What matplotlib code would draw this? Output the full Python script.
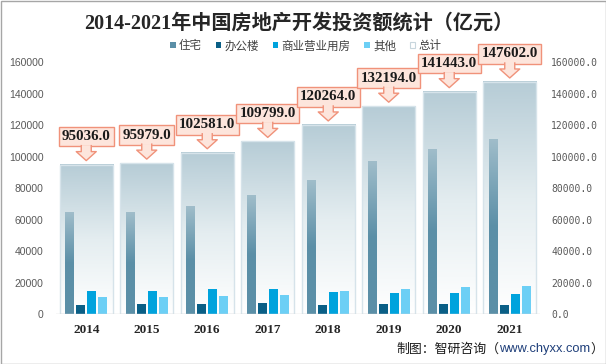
import numpy as np
import matplotlib
matplotlib.use("Agg")
import matplotlib.pyplot as plt
from matplotlib.colors import LinearSegmentedColormap
from matplotlib.patches import Polygon, Rectangle, Patch
from matplotlib.transforms import ScaledTranslation

plt.rcParams['font.family'] = ['Liberation Sans', 'Noto Sans CJK SC']

# Data (亿元)
years = ['2014', '2015', '2016', '2017', '2018', '2019', '2020', '2021']
housing = [64352, 64595, 68704, 75148, 85192, 97071, 104446, 111173]
office = [5641, 6210, 6533, 6761, 5996, 6163, 6494, 5974]
commercial = [14346, 14607, 15838, 15640, 14177, 13226, 13076, 12445]
other = [10697, 10567, 11506, 12250, 14899, 15734, 17427, 18010]
total = [95036, 95979, 102581, 109799, 120264, 132194, 141443, 147602]
series_names = ['住宅', '办公楼', '商业营业用房', '其他', '总计']

c_house = '#5b8fa7'
c_office = '#0a5f86'
c_comm = '#00a3dd'
c_other = '#6ccff5'
box_fc = '#fde5dc'
box_ec = '#f0927a'

fig = plt.figure(figsize=(6.06, 3.64), dpi=100)
ax = fig.add_axes([56 / 606, 1 - 314 / 364, 484 / 606, 251.5 / 364])
x = np.arange(len(years))

# total bars with vertical gradient
tot_cmap = LinearSegmentedColormap.from_list('tot', ['#ffffff', '#e4edf0', '#b6ccd6'])
grad = np.linspace(0, 1, 256).reshape(-1, 1)
tw = 0.88
for i, v in enumerate(total):
    ax.imshow(grad, extent=[i - tw / 2, i + tw / 2, 0, v], origin='lower',
              cmap=tot_cmap, aspect='auto', zorder=1)
ax.bar(x, total, width=tw, facecolor='none', edgecolor='#d6e3ea', lw=1, zorder=2)

# component bars
bw = 9 / 60.5
step = 11 / 60.5
house_cmap = LinearSegmentedColormap.from_list(
    'house', [(0, c_house), (0.5, c_house), (1, '#a0bdca')])
for i, v in enumerate(housing):
    x0 = i - 1.5 * step - bw / 2
    ax.imshow(grad, extent=[x0, x0 + bw, 0, v], origin='lower',
              cmap=house_cmap, aspect='auto', zorder=3)
ax.bar(x - 0.5 * step, office, width=bw, color=c_office, zorder=3)
ax.bar(x + 0.5 * step, commercial, width=bw, color=c_comm, zorder=3)
ax.bar(x + 1.5 * step, other, width=bw, color=c_other, zorder=3)

ax.set_xlim(-0.5, len(years) - 0.5)
ax.set_ylim(0, 160000)
ax.set_yticks(np.arange(0, 160001, 20000))
ax.set_xticks(x)
ax.set_xticklabels(years, fontfamily='Liberation Serif', fontweight='bold',
                   fontsize=9.5, color='#262626')
ax.tick_params(axis='x', length=0, pad=7)
ax.tick_params(axis='y', length=0, pad=9, labelsize=7.5, labelcolor='#595959')
for s in ax.spines.values():
    s.set_visible(False)
ax.axhline(0, color='#d9d9d9', lw=1, zorder=4)

# right axis, same scale
ax2 = ax.twinx()
ax2.set_ylim(0, 160000)
ax2.set_yticks(np.arange(0, 160001, 20000))
ax2.set_yticklabels([f'{t:.1f}' for t in np.arange(0, 160001, 20000)],
                    fontfamily='DejaVu Sans Mono', fontsize=7, color='#595959')
ax2.tick_params(axis='y', length=0, pad=8)
for s in ax2.spines.values():
    s.set_visible(False)

# callouts above the total bars
for i, v in enumerate(total):
    t = fig.dpi_scale_trans + ScaledTranslation(i, v, ax.transData)
    ax.annotate(f'{v:.1f}', xy=(i, v), xytext=(0, 28), textcoords='offset pixels',
                ha='center', va='center', fontsize=10.8, fontweight='bold',
                fontfamily='Liberation Serif', color='#1a1a1a', annotation_clip=False,
                bbox=dict(boxstyle='square,pad=0.22', fc=box_fc, ec=box_ec, lw=1),
                zorder=6)
    pts = np.array([(-5, 19), (-5, 13), (-10, 13), (0, 4), (10, 13), (5, 13), (5, 19)]) / 100
    ax.add_patch(Polygon(pts, closed=True, fc=box_fc, ec='none', transform=t,
                         clip_on=False, zorder=7))
    ax.plot(pts[:, 0], pts[:, 1], color=box_ec, lw=1, transform=t,
            clip_on=False, zorder=8)

# title
fig.text(299 / 606, 1 - 24 / 364, '2014-2021年中国房地产开发投资额统计（亿元）',
         ha='center', va='center', fontsize=14.5, fontweight='bold', color='#262626',
         family=['Liberation Serif', 'Noto Sans CJK SC'])

# legend
handles = [Patch(fc=c_house), Patch(fc=c_office), Patch(fc=c_comm),
           Patch(fc=c_other), Patch(fc='white', ec='#c8d6dd', lw=0.8)]
leg = fig.legend(handles, series_names, loc='center', bbox_to_anchor=(306 / 606, 1 - 46 / 364),
                 ncol=5, frameon=False, fontsize=8.3, handlelength=0.45, handleheight=0.45,
                 handletextpad=0.3, columnspacing=1.2, borderpad=0)
for txt in leg.get_texts():
    txt.set_color('#404040')
    txt.set_family(['Noto Sans CJK SC'])

# source note, built right to left
t1 = fig.text(603 / 606, 1 - 349 / 364, '）', ha='right', va='center', fontsize=9.3,
              color='#1a1a1a', family=['Noto Sans CJK SC'])
t2 = ax.annotate('www.chyxx.com', xy=(0, 0.5), xycoords=t1, ha='right', va='center',
                 fontsize=9.3, color='#1f3f7a', family=['Liberation Sans'])
ax.annotate('制图：智研咨询（', xy=(0, 0.5), xycoords=t2, ha='right', va='center',
            fontsize=9.3, color='#1a1a1a', family=['Noto Sans CJK SC'])

# outer frame
fig.add_artist(Rectangle((0.5 / 606, 0.5 / 364), 605 / 606, 363 / 364, transform=fig.transFigure,
                         fill=False, ec='#a6a6a6', lw=1))

fig.savefig('out.png', dpi=100)
